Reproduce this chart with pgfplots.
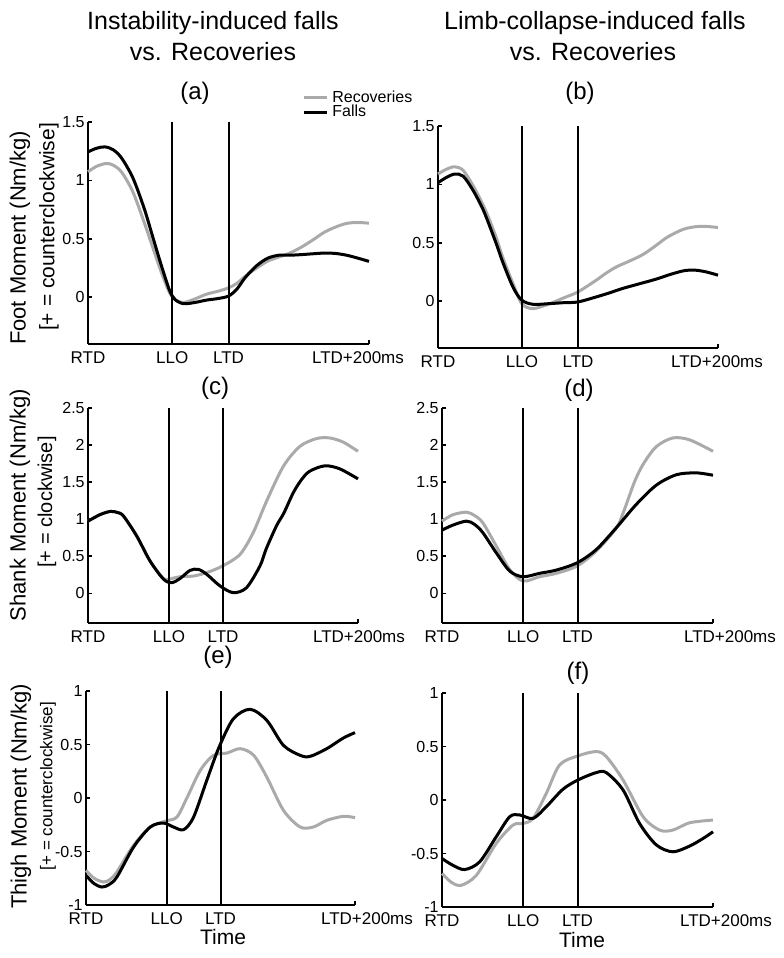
\documentclass[border=0pt]{standalone}
\usepackage{fontspec}
\setmainfont{Liberation Sans}
\usepackage{pgfplots}
\pgfplotsset{compat=1.18}
\definecolor{recgray}{RGB}{170,170,170}

\pgfplotsset{
  panel/.style={
    scale only axis, anchor=south west,
    xmin=0, xmax=100, clip=false,
    axis x line*=bottom, axis y line*=left,
    axis line style={line width=1pt, -},
    xtick={0,30,50}, xticklabels={RTD,LLO,LTD},
    extra x ticks={100}, extra x tick labels={LTD+200ms},
    tick align=inside, major tick length=2pt,
    tick style={black, line width=0.8pt},
    xticklabel style={font=\fontsize{8.5}{10}\selectfont, inner sep=1pt, yshift=-2.8pt},
    yticklabel style={font=\fontsize{8}{10}\selectfont, inner sep=1pt, xshift=-0.5pt},
    /pgf/number format/assume math mode=true,
  },
  fall/.style={black, line width=1.5pt, smooth},
  rec/.style={recgray, line width=1.5pt, smooth},
  ev/.style={black, line width=1pt, forget plot},
}

\begin{document}
\begin{tikzpicture}
\useasboundingbox (0,0) rectangle (391.5pt,479pt);

% (a) foot, instability
\begin{axis}[panel, at={(44pt,307pt)}, width=140.5pt, height=111pt,
  ymin=-0.4, ymax=1.5, ytick={0,0.5,1,1.5},
  extra x tick style={xticklabel style={xshift=-5.5pt}},
  legend style={at={(rel axis cs:0.74,1.18)}, anchor=north west, draw=none, fill=none,
    font=\fontsize{8}{9}\selectfont, row sep=-4pt},
  legend cell align=left,
  legend image code/.code={\draw[#1] (0pt,0pt) -- (11.5pt,0pt);}]
\addplot[rec] coordinates {(0,1.074) (3,1.12) (6.5,1.145) (9,1.13) (12,1.07) (16,0.90) (20,0.64) (23,0.43) (26,0.22) (29,0.04) (31,-0.02) (34,-0.045) (38,-0.015) (42,0.025) (46,0.05) (50,0.08) (53,0.12) (56,0.18) (60,0.25) (64,0.31) (68,0.345) (72,0.38) (76,0.43) (80,0.49) (84,0.555) (88,0.6) (92,0.632) (96,0.64) (100,0.634)};
\addlegendentry{Recoveries}
\addplot[fall] coordinates {(0,1.244) (3,1.275) (6,1.287) (9,1.262) (12,1.19) (16,1.02) (20,0.76) (23,0.52) (26,0.28) (29,0.06) (31,-0.02) (34,-0.055) (38,-0.045) (42,-0.025) (46,-0.012) (50,0.01) (53,0.07) (56,0.17) (60,0.27) (64,0.335) (68,0.36) (72,0.36) (76,0.365) (80,0.372) (84,0.378) (88,0.375) (92,0.36) (96,0.335) (100,0.307)};
\addlegendentry{Falls}
\addplot[ev] coordinates {(30,-0.4) (30,1.5)};
\addplot[ev] coordinates {(50,-0.4) (50,1.5)};
\end{axis}

% (b) foot, limb collapse
\begin{axis}[panel, at={(219pt,305pt)}, width=140pt, height=111pt,
  ymin=-0.4, ymax=1.5, ytick={0,0.5,1,1.5},
  extra x tick style={xticklabel style={xshift=-0.5pt}}]
\addplot[rec] coordinates {(0,1.089) (3,1.13) (6,1.151) (9,1.12) (12.5,0.99) (16,0.83) (18.5,0.69) (21,0.53) (23.2,0.37) (26.8,0.15) (29.9,-0.02) (33.9,-0.063) (40,-0.02) (45,0.03) (50,0.08) (56.5,0.18) (60,0.24) (63.7,0.294) (68,0.34) (73.2,0.40) (78,0.48) (82,0.55) (87.5,0.615) (92,0.638) (96,0.64) (100,0.631)};
\addplot[fall] coordinates {(0,1.014) (3,1.06) (6,1.089) (9,1.07) (12.5,0.95) (16,0.79) (18.5,0.64) (21,0.48) (23.2,0.33) (26.8,0.12) (29.9,0.01) (33.9,-0.026) (40,-0.02) (45,-0.012) (50,-0.006) (56.5,0.037) (61,0.07) (66,0.11) (72,0.15) (78,0.19) (83,0.23) (88,0.262) (92,0.266) (96,0.25) (100,0.223)};
\addplot[ev] coordinates {(30,-0.4) (30,1.5)};
\addplot[ev] coordinates {(50,-0.4) (50,1.5)};
\end{axis}

% (c) shank, instability
\begin{axis}[panel, at={(44pt,167.5pt)}, width=135pt, height=107.5pt,
  ymin=-0.4, ymax=2.5, ytick={0,0.5,1,1.5,2,2.5},
  extra x tick style={xticklabel style={xshift=0.5pt}}]
\addplot[rec] coordinates {(0,0.974) (4.6,1.064) (8.3,1.105) (11,1.09) (13.2,1.04) (18.1,0.77) (23,0.435) (28,0.2) (31,0.2) (34.1,0.225) (39,0.233) (44,0.28) (49.9,0.37) (56.3,0.525) (61.2,0.82) (66.1,1.24) (72.3,1.71) (78.4,1.98) (84.6,2.087) (89.5,2.096) (94.5,2.04) (100,1.916)};
\addplot[fall] coordinates {(0,0.974) (4.6,1.064) (8.3,1.105) (11,1.09) (13.2,1.04) (18.1,0.77) (23,0.435) (28,0.19) (31,0.144) (34.1,0.2) (37.8,0.31) (40.9,0.323) (44,0.256) (48.9,0.1) (53.8,0.009) (58.7,0.076) (63.7,0.37) (66,0.6) (69.8,0.91) (72.5,1.08) (76,1.355) (79,1.53) (82.1,1.647) (87.7,1.72) (93.2,1.68) (100,1.544)};
\addplot[ev] coordinates {(30,-0.4) (30,2.5)};
\addplot[ev] coordinates {(50,-0.4) (50,2.5)};
\end{axis}

% (d) shank, limb collapse
\begin{axis}[panel, at={(221pt,167.5pt)}, width=135.5pt, height=107.5pt,
  ymin=-0.4, ymax=2.5, ytick={0,0.5,1,1.5,2,2.5},
  extra x tick style={xticklabel style={xshift=8.5pt}}]
\addplot[rec] coordinates {(0,0.974) (4,1.06) (9,1.095) (12,1.05) (15.1,0.95) (20,0.64) (25,0.32) (29.9,0.166) (36,0.224) (42.2,0.27) (49.9,0.37) (56.9,0.57) (64.3,0.88) (67,1.1) (71,1.5) (74.2,1.74) (79.1,1.98) (85.2,2.096) (91.4,2.07) (100,1.916)};
\addplot[fall] coordinates {(0,0.853) (4,0.92) (9,0.974) (12,0.93) (15.1,0.817) (20,0.548) (25,0.3) (29.9,0.224) (36,0.27) (42.2,0.314) (49.9,0.413) (56.9,0.59) (64.3,0.884) (71.7,1.2) (79.1,1.46) (86.5,1.6) (93.8,1.625) (100,1.593)};
\addplot[ev] coordinates {(30,-0.4) (30,2.5)};
\addplot[ev] coordinates {(50,-0.4) (50,2.5)};
\end{axis}

% (e) thigh, instability
\begin{axis}[panel, at={(43pt,26.5pt)}, width=134.5pt, height=107pt,
  ymin=-1, ymax=1, ytick={-1,-0.5,0,0.5,1},
  extra x tick style={xticklabel style={xshift=6pt}}]
\addplot[rec] coordinates {(0,-0.676) (3,-0.75) (6.6,-0.785) (9,-0.76) (11.5,-0.69) (17.7,-0.442) (23.9,-0.271) (29.7,-0.215) (33.8,-0.178) (37.5,0) (42.5,0.259) (47.4,0.399) (52.4,0.42) (57.3,0.461) (62.3,0.4) (67.2,0.196) (73.4,-0.115) (79.6,-0.271) (84.5,-0.271) (89.5,-0.209) (95.7,-0.171) (100,-0.184)};
\addplot[fall] coordinates {(0,-0.723) (3,-0.8) (5.9,-0.832) (8.5,-0.81) (11.5,-0.738) (17.7,-0.458) (23.9,-0.271) (28.8,-0.234) (32.5,-0.271) (36.3,-0.296) (40,-0.178) (44.9,0.165) (49.5,0.477) (54.8,0.741) (61,0.829) (67.2,0.726) (73.4,0.492) (79.6,0.399) (83.3,0.389) (89.5,0.461) (95.7,0.561) (100,0.611)};
\addplot[ev] coordinates {(30,-1) (30,1)};
\addplot[ev] coordinates {(50,-1) (50,1)};
\end{axis}

% (f) thigh, limb collapse
\begin{axis}[panel, at={(221pt,25.5pt)}, width=135.5pt, height=107pt,
  ymin=-1, ymax=1, ytick={-1,-0.5,0,0.5,1},
  extra x tick style={xticklabel style={xshift=6.5pt}}]
\addplot[rec] coordinates {(0,-0.6875) (3.5,-0.77) (7.1,-0.797) (12.7,-0.703) (20,-0.406) (26.2,-0.234) (29.9,-0.219) (33.6,-0.172) (38.5,0.0625) (43.4,0.328) (50.2,0.4125) (56.9,0.453) (60.6,0.406) (66.8,0.1875) (74.2,-0.156) (80.3,-0.281) (85.2,-0.281) (91.4,-0.2125) (100,-0.1875)};
\addplot[fall] coordinates {(0,-0.547) (4,-0.61) (8.4,-0.65) (13.9,-0.578) (20,-0.344) (25,-0.156) (28.7,-0.14) (33.6,-0.172) (38.5,-0.0625) (44.6,0.1) (50.2,0.1875) (56.9,0.256) (60.6,0.256) (66.8,0.094) (72.9,-0.219) (79.1,-0.42) (85.2,-0.484) (91.4,-0.43) (96.3,-0.36) (100,-0.297)};
\addplot[ev] coordinates {(30,-1) (30,1)};
\addplot[ev] coordinates {(50,-1) (50,1)};
\end{axis}

% column headers
\node[font=\fontsize{12.5}{14}\selectfont] at (106.5pt,467.5pt) {Instability-induced falls};
\node[font=\fontsize{12.5}{14}\selectfont] at (106.5pt,453pt) {vs. Recoveries};
\node[font=\fontsize{12.5}{14}\selectfont] at (297.5pt,467.5pt) {Limb-collapse-induced falls};
\node[font=\fontsize{12.5}{14}\selectfont] at (296.5pt,453pt) {vs. Recoveries};

% panel titles
\node[font=\fontsize{12}{14}\selectfont] at (97.5pt,432.5pt) {(a)};
\node[font=\fontsize{12}{14}\selectfont] at (290pt,432.5pt) {(b)};
\node[font=\fontsize{12}{14}\selectfont] at (107.5pt,285pt) {(c)};
\node[font=\fontsize{12}{14}\selectfont] at (289.5pt,284pt) {(d)};
\node[font=\fontsize{12}{14}\selectfont, inner sep=1pt] at (109pt,150.5pt) {(e)};
\node[font=\fontsize{12}{14}\selectfont] at (289pt,142.5pt) {(f)};

% y labels
\node[rotate=90, font=\fontsize{11}{13}\selectfont] at (10pt,360pt) {Foot Moment (Nm/kg)};
\node[rotate=90, font=\fontsize{10.5}{12}\selectfont] at (24.5pt,365.5pt) {[+ = counterclockwise]};
\node[rotate=90, font=\fontsize{11}{13}\selectfont] at (10pt,226.5pt) {Shank Moment (Nm/kg)};
\node[rotate=90, font=\fontsize{10}{12}\selectfont] at (23.5pt,228pt) {[+ = clockwise]};
\node[rotate=90, font=\fontsize{11}{13}\selectfont] at (10.5pt,80.75pt) {Thigh Moment (Nm/kg)};
\node[rotate=90, font=\fontsize{8.5}{10}\selectfont] at (24pt,86pt) {[+ = counterclockwise]};

% x labels
\node[font=\fontsize{10.5}{12}\selectfont, inner sep=1pt] at (111.5pt,10.5pt) {Time};
\node[font=\fontsize{10.5}{12}\selectfont] at (291pt,9pt) {Time};
\end{tikzpicture}
\end{document}
